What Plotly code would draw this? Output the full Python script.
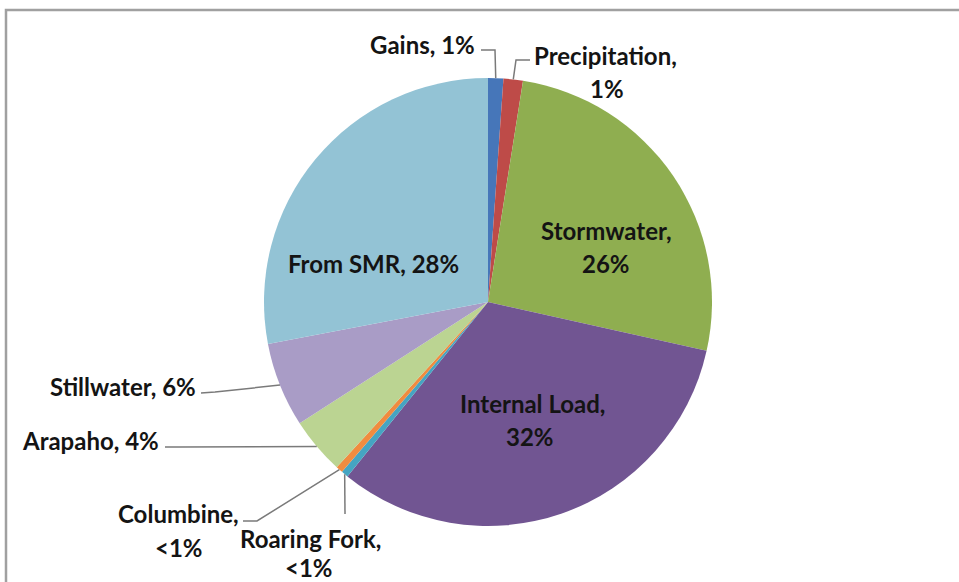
import math
import plotly.graph_objects as go

# ---- data ----
categories = ["Gains", "Precipitation", "Stormwater", "Internal Load", "Roaring Fork",
              "Columbine", "Arapaho", "Stillwater", "From SMR"]
shares = [1.1, 1.4, 26.0, 32.3, 0.5, 0.5, 4.1, 6.1, 28.0]
label_text = ["1%", "1%", "26%", "32%", "<1%", "<1%", "4%", "6%", "28%"]
colors = ["#4676B9", "#BE4B48", "#8FAE50", "#715592", "#45A5C2",
          "#F08C3F", "#BBD492", "#A99CC6", "#93C3D5"]

# ---- layout constants (screen pixels) ----
W, H = 959, 582
CX, CY, R = 488, 302, 224
FONT = dict(family="Lato, 'Open Sans', sans-serif", size=24, color="#141414")


def px(x, y):
    return x / W, 1 - y / H


# label placement (screen px): (line text, x, y, xanchor)
labels_layout = {
    "Gains": [("Gains, " + label_text[0], 477, 45, "right")],
    "Precipitation": [("Precipitation,", 532, 56, "left"), (label_text[1], 607, 88, "center")],
    "Stormwater": [("Stormwater,", 606, 231, "center"), (label_text[2], 606, 264, "center")],
    "Internal Load": [("Internal Load,", 532, 403, "center"), (label_text[3], 530, 436, "center")],
    "Roaring Fork": [("Roaring Fork,", 310, 538, "center"), (label_text[4], 309, 567, "center")],
    "Columbine": [("Columbine,", 241, 513, "right"), (label_text[5], 179, 547, "center")],
    "Arapaho": [("Arapaho, " + label_text[6], 161, 440, "right")],
    "Stillwater": [("Stillwater, " + label_text[7], 198, 386, "right")],
    "From SMR": [("From SMR, " + label_text[8], 373, 264, "center")],
}
# leader line points from label side to elbow (screen px); anchor computed from data
leaders = {
    "Gains": [(481, 50), (495, 50)],
    "Precipitation": [(530, 60), (516, 60)],
    "Roaring Fork": [(345, 514)],
    "Columbine": [(243, 521), (257, 521)],
    "Arapaho": [(165, 447), (180, 447)],
    "Stillwater": [(201, 393), (215, 392)],
}

fig = go.Figure()
x0, y1 = px(CX - R, CY - R)
x1, y0 = px(CX + R, CY + R)
fig.add_trace(go.Pie(
    labels=categories, values=shares, sort=False, direction="clockwise", rotation=0,
    marker=dict(colors=colors, line=dict(width=0)),
    textinfo="none", hoverinfo="label+percent", showlegend=False,
    domain=dict(x=[x0, x1], y=[y0, y1]),
))

total = sum(shares)
cum = 0.0
anchors = {}
for cat, v in zip(categories, shares):
    th = 2 * math.pi * (cum + v / 2) / total
    anchors[cat] = (CX + R * math.sin(th), CY - R * math.cos(th))
    cum += v

annotations = []
for cat in categories:
    for txt, x, y, xa in labels_layout[cat]:
        ax, ay = px(x, y)
        annotations.append(dict(x=ax, y=ay, xref="paper", yref="paper", text="<b>" + txt + "</b>",
                                showarrow=False, xanchor=xa, yanchor="middle", font=FONT))

shapes = []
for cat, pts in leaders.items():
    allpts = list(pts) + [anchors[cat]]
    path = ""
    for i, (x, y) in enumerate(allpts):
        path += ("M" if i == 0 else " L") + f" {x:.2f} {y:.2f}"
    shapes.append(dict(type="path", path=path, xref="x", yref="y",
                       line=dict(color="#7a7a7a", width=1.5)))

# border of the chart area
shapes.append(dict(type="rect", xref="x", yref="y", x0=6, y0=10, x1=990, y1=620,
                   line=dict(color="#a0a0a0", width=2.5), fillcolor="rgba(0,0,0,0)"))

fig.update_layout(
    width=W, height=H, margin=dict(l=0, r=0, t=0, b=0),
    paper_bgcolor="white", plot_bgcolor="rgba(0,0,0,0)",
    xaxis=dict(range=[0, W], visible=False, fixedrange=True),
    yaxis=dict(range=[H, 0], visible=False, fixedrange=True),
    annotations=annotations, shapes=shapes,
)
fig.write_html("out.html", config={"displayModeBar": False},
               post_script="document.body.style.margin='0px';document.body.style.overflow='hidden';")
